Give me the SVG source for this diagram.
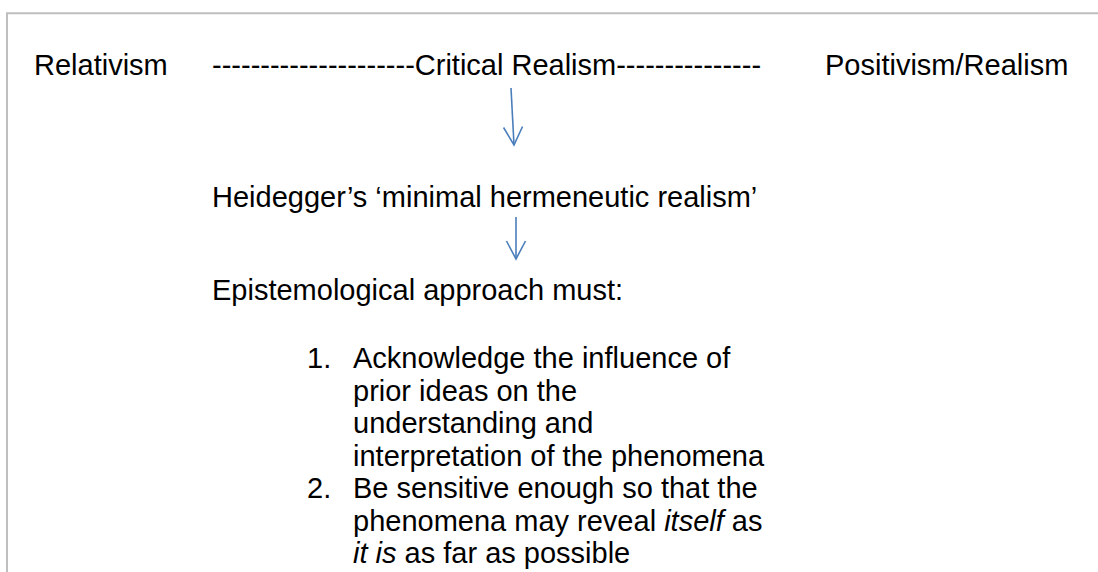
<svg xmlns="http://www.w3.org/2000/svg" width="1098" height="572" viewBox="0 0 1098 572">
<style>
text{font-family:"Liberation Sans",Arial,sans-serif;font-size:29px;fill:#000}
.frame{stroke:#bfbfbf;stroke-width:2;fill:none}
.arr{stroke:#4a7ebb;stroke-width:1.6;fill:none}
.it{font-style:italic}
</style>
<defs>
<marker id="open" markerUnits="userSpaceOnUse" markerWidth="24" markerHeight="24" viewBox="-20 -12 24 24" refX="0" refY="0" orient="auto">
<path d="M-18,-9.5 L0,0 L-18,9.5" fill="none" stroke="#4a7ebb" stroke-width="1.6"/>
</marker>
</defs>
<rect width="1098" height="572" fill="#fff"/>
<path class="frame" d="M7,572 V13.3 H1098"/>
<g id="relativism"><text x="34" y="75">Relativism</text></g>
<g id="critical-realism"><text x="212" y="75">---------------------Critical Realism---------------</text></g>
<g id="positivism"><text x="825" y="75">Positivism/Realism</text></g>
<g id="heidegger"><text x="212" y="207">Heidegger’s ‘minimal hermeneutic realism’</text></g>
<g id="epistemological"><text x="212" y="300">Epistemological approach must:</text></g>
<g id="list">
<text x="307" y="368">1.</text>
<text x="353" y="368">Acknowledge the influence of</text>
<text x="353" y="400.5">prior ideas on the</text>
<text x="353" y="433">understanding and</text>
<text x="353" y="465.5">interpretation of the phenomena</text>
<text x="307" y="498">2.</text>
<text x="353" y="498">Be sensitive enough so that the</text>
<text x="353" y="530.5">phenomena may reveal <tspan class="it">itself</tspan> as</text>
<text x="353" y="563"><tspan class="it">it is</tspan> as far as possible</text>
</g>
<g id="connectors">
<line class="arr" x1="511" y1="88" x2="514" y2="145" marker-end="url(#open)"/>
<line class="arr" x1="516" y1="217" x2="516" y2="259" marker-end="url(#open)"/>
</g>
</svg>
